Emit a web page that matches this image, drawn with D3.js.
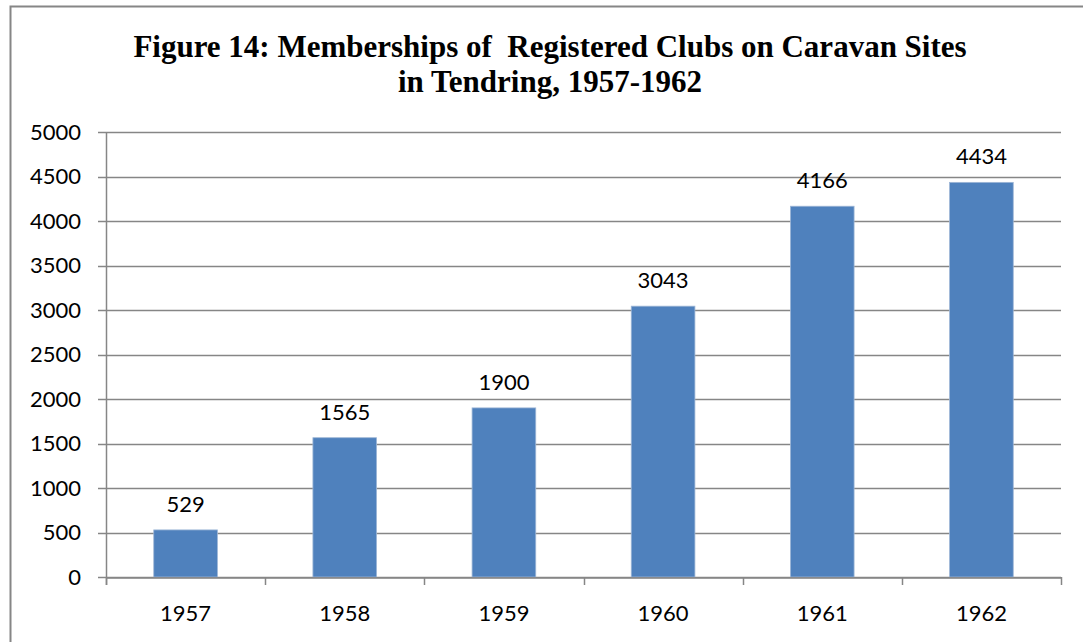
<!DOCTYPE html>
<html>
<head>
<meta charset="utf-8">
<script src="https://cdn.jsdelivr.net/npm/d3@7"></script>
<style>
  body { margin: 0; background: #fff; }
</style>
</head>
<body>
<div id="chart"></div>
<script>
var years = ["1957", "1958", "1959", "1960", "1961", "1962"];
var members = [529, 1565, 1900, 3043, 4166, 4434];
var yTicks = [0, 500, 1000, 1500, 2000, 2500, 3000, 3500, 4000, 4500, 5000];
var titleLines = ["Figure 14: Memberships of  Registered Clubs on Caravan Sites", "in Tendring, 1957-1962"];

var W = 1083, H = 642;
var plotLeft = 106, plotRight = 1061, plotTop = 132, plotBottom = 577;
var labelFont = "Lato, 'Open Sans', sans-serif";

var svg = d3.select("#chart").append("svg")
    .attr("width", W)
    .attr("height", H);

// outer frame (runs off right and bottom)
svg.append("rect")
    .attr("x", 10.5).attr("y", 6.5)
    .attr("width", W + 20).attr("height", H + 20)
    .attr("fill", "#fff")
    .attr("stroke", "#868686")
    .attr("stroke-width", 2);

var x = d3.scaleBand()
    .domain(years)
    .range([plotLeft, plotRight])
    .paddingInner(0.6)
    .paddingOuter(0.3);

var xCat = d3.scaleBand().domain(years).range([plotLeft, plotRight]);

var y = d3.scaleLinear()
    .domain([0, 5000])
    .range([plotBottom, plotTop]);

// gridlines
svg.append("g")
    .selectAll("line")
    .data(yTicks)
    .enter()
    .append("line")
    .attr("x1", plotLeft - 8)
    .attr("x2", plotRight)
    .attr("y1", function(d) { return Math.round(y(d)) + 0.5; })
    .attr("y2", function(d) { return Math.round(y(d)) + 0.5; })
    .attr("stroke", "#868686")
    .attr("stroke-width", 1.5);

// y axis labels
svg.append("g")
    .selectAll("text")
    .data(yTicks)
    .enter()
    .append("text")
    .attr("x", 81)
    .attr("y", function(d) { return y(d); })
    .attr("dy", "0.36em")
    .attr("text-anchor", "end")
    .attr("font-family", labelFont)
    .attr("font-size", "22px")
    .attr("fill", "#000")
    .text(function(d) { return d; });

// bars
svg.append("g")
    .selectAll("rect")
    .data(members)
    .enter()
    .append("rect")
    .attr("x", function(d, i) { return x(years[i]); })
    .attr("y", function(d) { return y(d); })
    .attr("width", x.bandwidth())
    .attr("height", function(d) { return y(0) - y(d); })
    .attr("fill", "#4F81BD")
    .attr("stroke", "#9DB6D6")
    .attr("stroke-width", 0.8);

// value labels
svg.append("g")
    .selectAll("text")
    .data(members)
    .enter()
    .append("text")
    .attr("x", function(d, i) { return x(years[i]) + x.bandwidth() / 2; })
    .attr("y", function(d) { return y(d) - 18; })
    .attr("text-anchor", "middle")
    .attr("font-family", labelFont)
    .attr("font-size", "22px")
    .attr("fill", "#000")
    .text(function(d) { return d; });

// y axis line
svg.append("line")
    .attr("x1", plotLeft + 0.5).attr("x2", plotLeft + 0.5)
    .attr("y1", plotTop).attr("y2", plotBottom + 8)
    .attr("stroke", "#868686").attr("stroke-width", 1.5);

// x axis line
svg.append("g")
    .attr("transform", "translate(0," + (Math.round(plotBottom) + 0.5) + ")")
    .call(d3.axisBottom(xCat).tickSize(0).tickFormat(""))
    .call(function(g) {
        g.select(".domain").attr("stroke", "#868686").attr("stroke-width", 1.5);
    });

// category boundary ticks
var bounds = years.map(function(d) { return xCat(d); }).concat([plotRight]);
svg.append("g")
    .selectAll("line")
    .data(bounds)
    .enter()
    .append("line")
    .attr("x1", function(d) { return Math.round(d) + 0.5; })
    .attr("x2", function(d) { return Math.round(d) + 0.5; })
    .attr("y1", plotBottom)
    .attr("y2", plotBottom + 8)
    .attr("stroke", "#868686")
    .attr("stroke-width", 1.5);

// category labels
svg.append("g")
    .selectAll("text")
    .data(years)
    .enter()
    .append("text")
    .attr("x", function(d) { return xCat(d) + xCat.bandwidth() / 2; })
    .attr("y", 621)
    .attr("text-anchor", "middle")
    .attr("font-family", labelFont)
    .attr("font-size", "22px")
    .attr("fill", "#000")
    .text(function(d) { return d; });

// title
svg.append("g")
    .selectAll("text")
    .data(titleLines)
    .enter()
    .append("text")
    .attr("x", 550)
    .attr("y", function(d, i) { return 57 + i * 35; })
    .attr("text-anchor", "middle")
    .attr("font-family", "'Liberation Serif', 'DejaVu Serif', serif")
    .attr("font-weight", "bold")
    .attr("font-size", "31px")
    .attr("fill", "#000")
    .style("white-space", "pre")
    .text(function(d) { return d; });
</script>
</body>
</html>
